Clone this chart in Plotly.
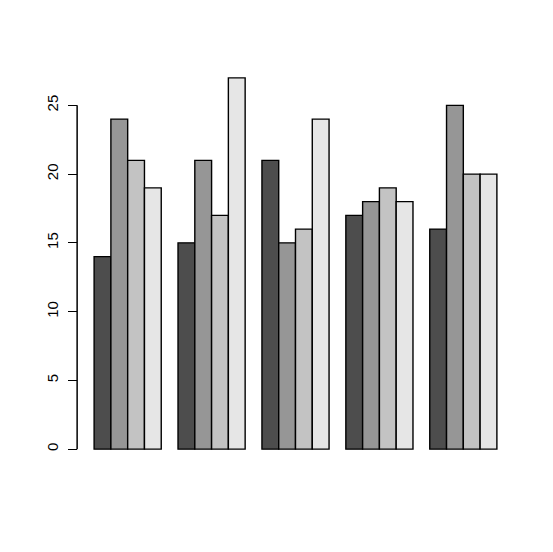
import plotly.graph_objects as go

groups = ["1", "2", "3", "4", "5"]
s1 = [14, 15, 21, 17, 16]
s2 = [24, 21, 15, 18, 25]
s3 = [21, 17, 16, 19, 20]
s4 = [19, 27, 24, 18, 20]
y_ticks = [0, 5, 10, 15, 20, 25]

fills = ["#4D4D4D", "#969696", "#C3C3C3", "#E6E6E6"]
y_range = [-1.08, 28.08]

fig = go.Figure()
for vals, col in zip([s1, s2, s3, s4], fills):
    fig.add_bar(
        x=groups, y=vals,
        marker=dict(color=col, line=dict(color="black", width=1.4)),
        showlegend=False,
    )

# R draws the axis line only over the tick range (paper coords so it isn't clipped)
span = y_range[1] - y_range[0]
fig.add_shape(
    type="line", xref="paper", yref="paper", layer="above",
    x0=-0.002, x1=-0.002,
    y0=(y_ticks[0] - y_range[0]) / span, y1=(y_ticks[-1] - y_range[0]) / span,
    line=dict(color="black", width=1.5),
)

# page body has an 8px margin, so margins are pulled in by 8
fig.update_layout(
    barmode="group",
    bargap=0.2,
    bargroupgap=0,
    width=553, height=552,
    margin=dict(l=70, r=48, t=55, b=96, autoexpand=False),
    paper_bgcolor="white",
    plot_bgcolor="white",
    font=dict(family="Liberation Sans, Arial", size=15, color="black"),
    xaxis=dict(
        type="category", range=[-0.592, 4.592],
        showticklabels=False, showgrid=False, zeroline=False,
        showline=False, ticks="",
    ),
    yaxis=dict(
        range=y_range,
        tickvals=y_ticks,
        tickangle=-90,
        ticks="outside", ticklen=9, tickcolor="black", tickwidth=1.2,
        showgrid=False, zeroline=False, showline=False,
        ticklabelstandoff=4, automargin=False,
    ),
)

fig.write_html("out.html")
